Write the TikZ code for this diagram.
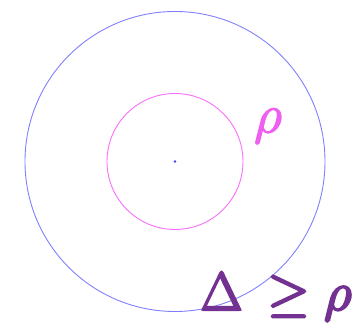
\documentclass[tikz,border=0pt]{standalone}
\usepackage{amsmath}
\usepackage{graphicx}
\definecolor{outerblue}{RGB}{128,128,255}
\definecolor{dotblue}{RGB}{60,60,240}
\definecolor{innermag}{RGB}{250,110,250}
\definecolor{rhomag}{RGB}{240,96,240}
\definecolor{purp}{RGB}{115,50,145}
\newcommand{\thickglyphs}[2]{\special{pdf:literal direct 2 Tr #1 w}#2\special{pdf:literal direct 0 Tr}}
\tikzset{
  ring/.style={line width=0.9pt},
  biglabel/.style={inner sep=0pt, font=\Huge},
  ineqpart/.style={inner sep=0pt, font=\Huge, text=purp, anchor=base},
}
\begin{document}
\begin{tikzpicture}[x=1pt,y=1pt]
\useasboundingbox (0,0) rectangle (354,323);
\coordinate (c) at (175,161.5);
\draw[ring, outerblue] (c) circle[radius=150];
\draw[ring, innermag] (c) circle[radius=68];
\fill[dotblue] (c) circle[radius=1.3];
\node[biglabel, text=rhomag] (rho) at (268,197) {\thickglyphs{0.6}{\scalebox{2.2}{$\rho$}}};
\node[ineqpart] (delta) at (221.5,13) {\thickglyphs{1.0}{\scalebox{2.17}{$\Delta$}}};
\node[ineqpart] (geq) at (288.5,13) {\thickglyphs{1.0}{\scalebox{2.17}{$\geq$}}};
\node[ineqpart, anchor=base west] (rhob) at (324,13) {\thickglyphs{1.0}{\scalebox{2.17}{$\rho$}}};
\end{tikzpicture}
\end{document}
